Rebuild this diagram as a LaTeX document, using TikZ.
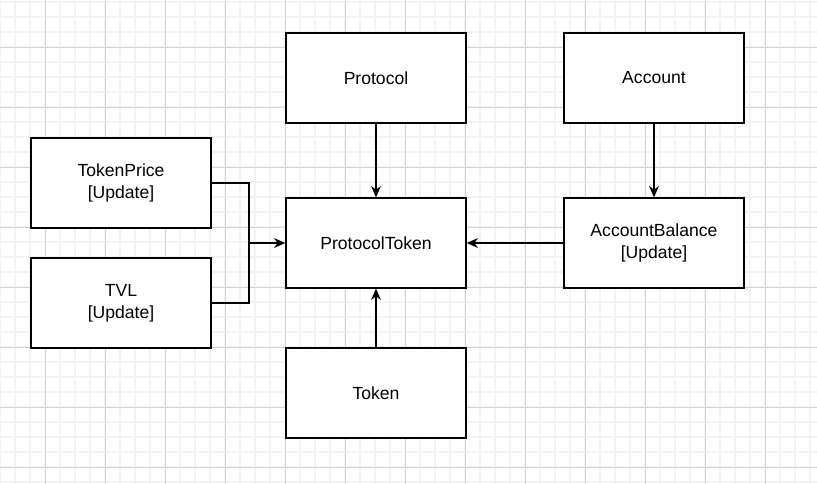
\documentclass[tikz,border=0pt]{standalone}
\usepackage{fontspec}
\setmainfont{Liberation Sans}
\usepackage{xcolor}
\usetikzlibrary{arrows.meta,positioning}

\definecolor{gridfine}{HTML}{F3F3F3}
\definecolor{gridcoarse}{HTML}{D4D4D4}

\tikzset{
  entity/.style={draw, rectangle, line width=0.9pt, fill=white, minimum width=4.5cm, minimum height=2.25cm, align=center, font=\fontsize{12.5}{15.5}\selectfont},
  link/.style={line width=0.9pt},
  finegrid/.style={gridfine, line width=1.3pt},
  coarsegrid/.style={gridcoarse, line width=0.7pt}
}

\begin{document}
\begin{tikzpicture}[x=0.025cm, y=-0.025cm, >={Stealth[length=8pt,width=7pt,inset=2.5pt]}]
\useasboundingbox (0,0) rectangle (817,484);

% background grid
\foreach \gx in {0,15,...,810} \draw[finegrid] (\gx,0) -- (\gx,484);
\foreach \gy in {2,17,...,482} \draw[finegrid] (0,\gy) -- (817,\gy);
\foreach \gx in {45,105,...,765} \draw[coarsegrid] (\gx,0) -- (\gx,484);
\foreach \gy in {47,107,...,467} \draw[coarsegrid] (0,\gy) -- (817,\gy);

% entities
\node[entity] (protocol) at (376,78) {Protocol};
\node[entity] (account) at (654,78) {Account};
\node[entity] (tokenprice) at (121,183) {TokenPrice\\{[Update]}};
\node[entity] (protocoltoken) at (376,243) {ProtocolToken};
\node[entity] (accountbalance) at (654,243) {AccountBalance\\{[Update]}};
\node[entity] (tvl) at (121,303) {TVL\\{[Update]}};
\node[entity] (token) at (376,393) {Token};

\coordinate (merge) at (249,243);

\draw[link] (tokenprice) -| (merge);
\draw[link] (tvl) -| (merge);
\draw[link,->] (merge) -- (protocoltoken);
\draw[link,->] (protocol) -- (protocoltoken);
\draw[link,->] (token) -- (protocoltoken);
\draw[link,->] (accountbalance) -- (protocoltoken);
\draw[link,->] (account) -- (accountbalance);
\end{tikzpicture}
\end{document}
